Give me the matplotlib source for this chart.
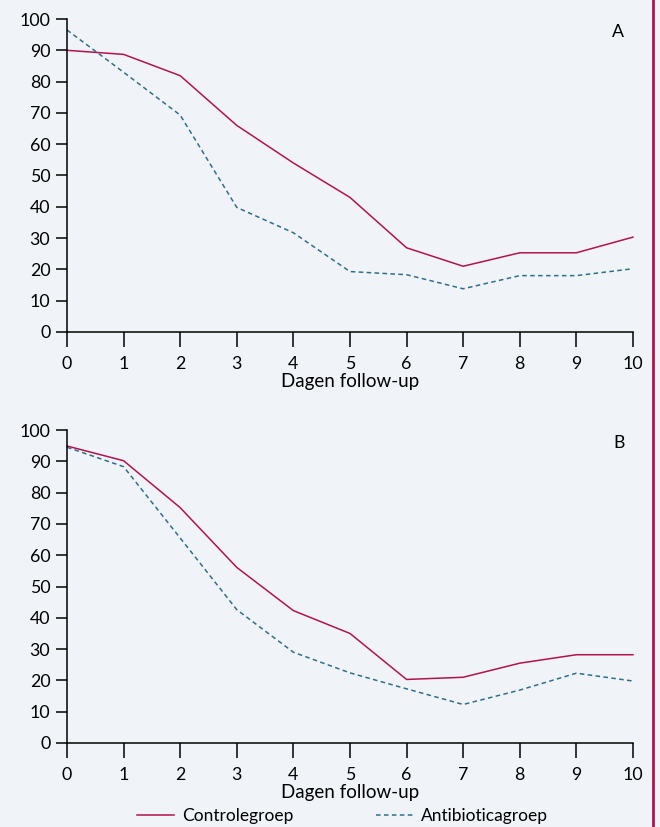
import matplotlib.pyplot as plt
import matplotlib.lines as mlines

plt.rcParams['font.family'] = ['Lato', 'DejaVu Sans']

# Follow-up days
days = list(range(11))

# Panel A (percentages)
ctrl_a = [90, 88.7, 81.9, 66, 54, 43, 26.9, 21, 25.3, 25.3, 30.3]
anti_a = [96.5, 83, 69.3, 39.8, 31.7, 19.3, 18.3, 13.8, 18, 18, 20.2]

# Panel B (percentages)
ctrl_b = [94.9, 90.2, 75.2, 56.1, 42.3, 35, 20.3, 21, 25.5, 28.2, 28.2]
anti_b = [94.5, 88.3, 65.5, 42.6, 29, 22.4, 17.3, 12.3, 16.9, 22.3, 19.8]

panel_labels = ['A', 'B']
yticks = list(range(0, 101, 10))

red = '#b3124f'
blue = '#2e6e8c'
bg = '#f0f4f8'

fig = plt.figure(figsize=(6.6, 8.27), dpi=100, facecolor=bg)
ax_a = fig.add_axes([0.1015, 0.5986, 0.8575, 0.3784])
ax_b = fig.add_axes([0.1015, 0.1016, 0.8575, 0.3784])

for ax, ctrl, anti, lab in [(ax_a, ctrl_a, anti_a, panel_labels[0]),
                            (ax_b, ctrl_b, anti_b, panel_labels[1])]:
    ax.set_facecolor(bg)
    ax.plot(days, ctrl, color=red, lw=1.1, clip_on=False)
    ax.plot(days, anti, color=blue, lw=1.1, dashes=(3, 2.2), clip_on=False)
    ax.set_xlim(0, 10)
    ax.set_ylim(0, 100)
    ax.set_xticks(days)
    ax.set_yticks(yticks)
    for s in ['top', 'right']:
        ax.spines[s].set_visible(False)
    ax.spines['left'].set_linewidth(1.1)
    ax.spines['bottom'].set_linewidth(1.1)
    ax.tick_params(axis='y', direction='out', length=8, width=1.1, labelsize=12.8, pad=4)
    ax.tick_params(axis='x', direction='out', length=11, width=1.1, labelsize=12.8, pad=6)
    ax.set_xlabel('Dagen follow-up', fontsize=13.5, labelpad=1)
    ax.text(0.985, 0.985, lab, transform=ax.transAxes, ha='right', va='top', fontsize=12.8)

# Legend below the second panel
handles = [
    mlines.Line2D([], [], color=red, lw=1.1, label='Controlegroep'),
    mlines.Line2D([], [], color=blue, lw=1.1, dashes=(3, 2.2), label='Antibioticagroep'),
]
fig.legend(handles=handles, loc='center', bbox_to_anchor=(0.519, 1 - 816 / 827), ncol=2,
           frameon=False, fontsize=12.5, handlelength=2.1, columnspacing=4.8,
           handletextpad=0.46, borderpad=0)

# Red rule on the right edge
fig.add_artist(mlines.Line2D([0.989, 0.989], [0, 1], color=red, lw=2, transform=fig.transFigure))

fig.savefig('out.png', dpi=100, facecolor=bg)
